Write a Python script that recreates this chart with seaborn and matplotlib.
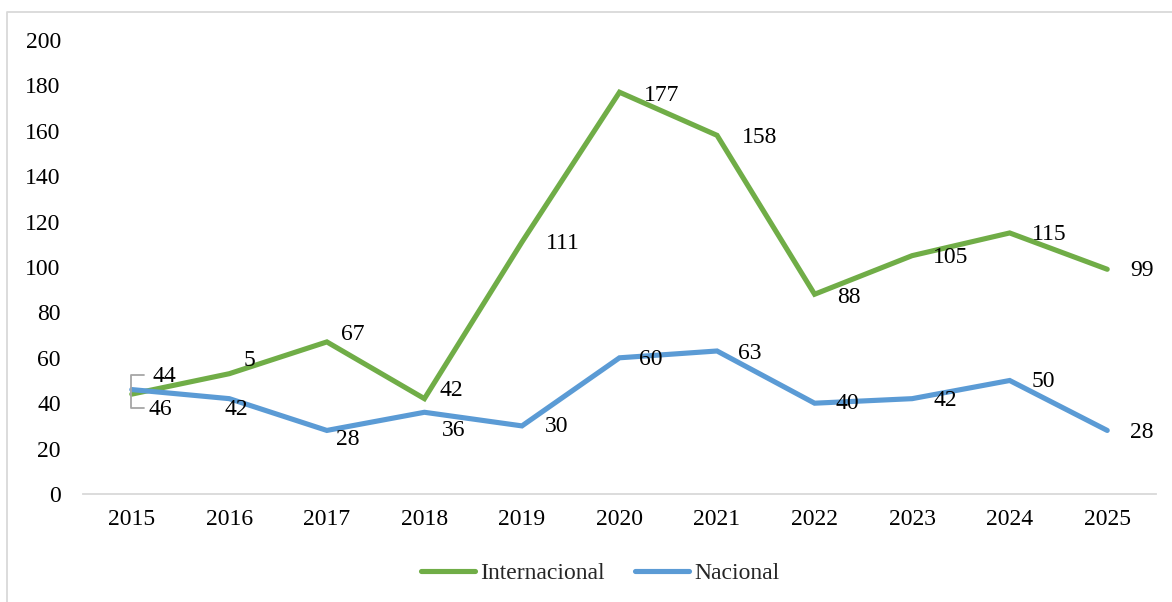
import matplotlib
matplotlib.use("Agg")
import matplotlib.pyplot as plt
from matplotlib.lines import Line2D
import seaborn as sns
import pandas as pd

years = [2015, 2016, 2017, 2018, 2019, 2020, 2021, 2022, 2023, 2024, 2025]
internacional = [44, 53, 67, 42, 111, 177, 158, 88, 105, 115, 99]
nacional = [46, 42, 28, 36, 30, 60, 63, 40, 42, 50, 28]
# data labels as shown in the chart (the 2016 label appears truncated)
lab_internacional = ["44", "5", "67", "42", "111", "177", "158", "88", "105", "115", "99"]
lab_nacional = ["46", "42", "28", "36", "30", "60", "63", "40", "42", "50", "28"]
series_names = ["Internacional", "Nacional"]
colors = {"Internacional": "#70ad47", "Nacional": "#5b9bd5"}

# label offsets in pixels (dx right, dy up) relative to each point, left-aligned text
off_int = [(21, 18), (14, 13), (14, 7), (15, 8), (24, -1), (24, -3), (25, -2),
           (23, -3), (21, -2), (22, -2), (23, -1)]
off_nac = [(17, -20), (-5, -11), (9, -9), (17, -18), (23, -1), (20, -2), (21, -3),
           (21, 0), (21, -2), (22, -1), (23, -2)]

sns.set_theme(style="white")
plt.rcParams["font.family"] = ["Liberation Serif", "DejaVu Serif"]
FS = 17

df = pd.DataFrame({
    "idx": list(range(len(years))) * 2,
    "value": internacional + nacional,
    "serie": [series_names[0]] * len(years) + [series_names[1]] * len(years),
})

fig = plt.figure(figsize=(11.72, 6.02), dpi=100)
W, H = 1172, 602
left, right, bottom, top = 83, 1156, 494, 40
ax = fig.add_axes([left / W, (H - bottom) / H, (right - left) / W, (bottom - top) / H])

sns.lineplot(data=df, x="idx", y="value", hue="serie", palette=colors, ax=ax,
             linewidth=3.7, legend=False, sort=False)
for ln in ax.get_lines():
    ln.set_solid_capstyle("round")
    ln.set_solid_joinstyle("miter")

ax.set_xlim(-0.5, len(years) - 0.5)
ax.set_ylim(0, 200)
ax.set_yticks(range(0, 201, 20))
ax.set_xticks(range(len(years)))
ax.set_xticklabels([str(y) for y in years])
ax.tick_params(axis="y", length=0, pad=16, labelsize=FS, labelcolor="black")
ax.tick_params(axis="x", length=0, pad=11, labelsize=FS, labelcolor="black")
ax.set_xlabel("")
ax.set_ylabel("")
ax.grid(False)
for s in ["top", "right", "left"]:
    ax.spines[s].set_visible(False)
ax.spines["bottom"].set_color("#d9d9d9")
ax.spines["bottom"].set_linewidth(1.3)

for vals, labs, offs in [(internacional, lab_internacional, off_int),
                         (nacional, lab_nacional, off_nac)]:
    for i, (v, t, (dx, dy)) in enumerate(zip(vals, labs, offs)):
        ax.annotate(t, xy=(i, v), xytext=(dx, dy), textcoords="offset pixels",
                    ha="left", va="center", fontsize=FS, color="black")

# leader bracket for the 2015 labels
fig.canvas.draw()
px, py = ax.transData.transform((0, internacional[0]))
gray = "#a6a6a6"
top_pts = [(px + 12, py + 19), (px - 1, py + 19), (px - 1, py + 2)]
bot_pts = [(px + 12, py - 14), (px - 1, py - 14), (px - 1, py + 2)]
for pts in (top_pts, bot_pts):
    xs = [p[0] / W for p in pts]
    ys = [p[1] / H for p in pts]
    fig.add_artist(Line2D(xs, ys, transform=fig.transFigure, color=gray, lw=1.3))

handles = [Line2D([0], [0], color=colors[n], lw=3.7, solid_capstyle="round") for n in series_names]
fig.legend(handles, series_names, loc="center", bbox_to_anchor=(600 / W, (H - 573) / H),
           ncol=2, frameon=False, fontsize=FS, handlelength=2.3, handletextpad=0.2,
           columnspacing=1.3)

# outer chart border
fig.add_artist(Line2D([6.5 / W, 6.5 / W, 1.0], [0.0, (H - 11.5) / H, (H - 11.5) / H],
                      transform=fig.transFigure, color="#d9d9d9", lw=1.3))

fig.savefig("out.png", dpi=100)
